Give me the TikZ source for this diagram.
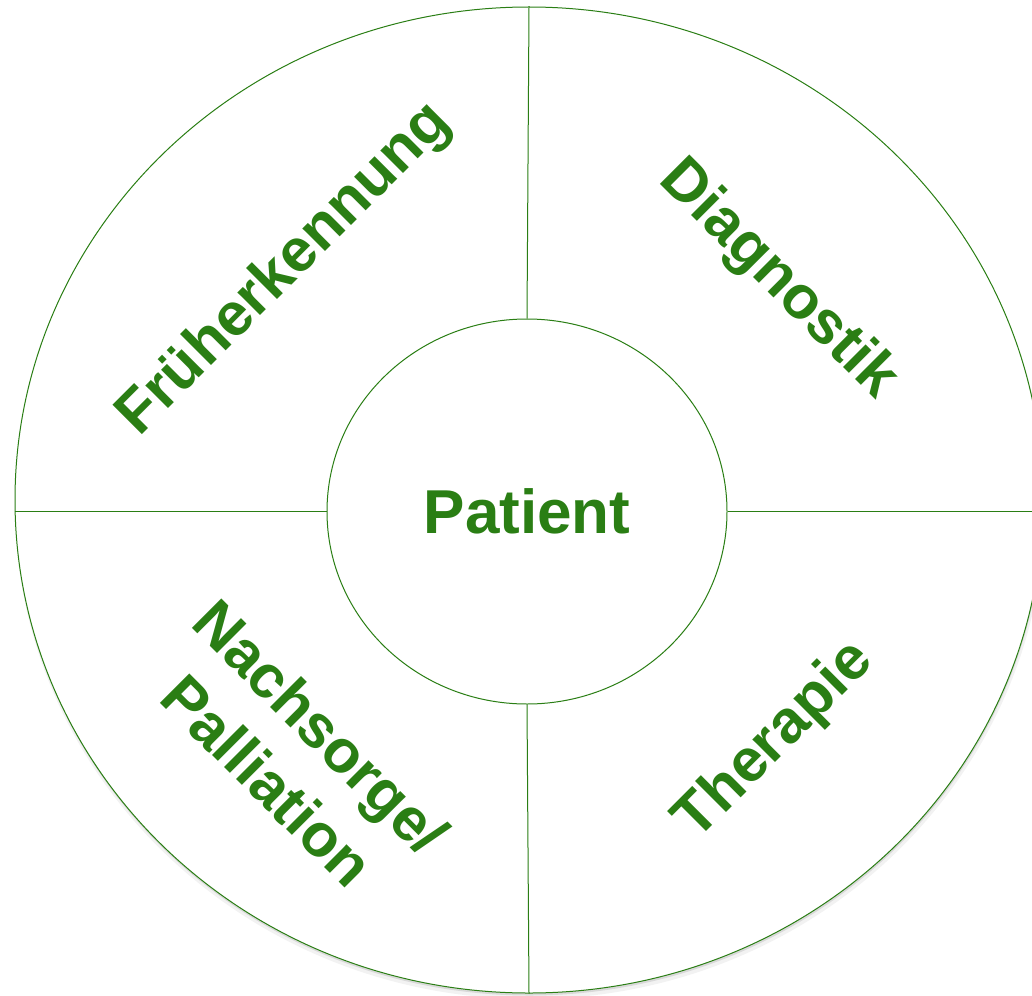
\documentclass[tikz,border=0pt]{standalone}
\usepackage{fontspec}
\setmainfont{Liberation Sans}
\usetikzlibrary{shapes.geometric}
\definecolor{leafgreen}{HTML}{2A7E14}
\begin{document}
\begin{tikzpicture}[x=1pt,y=-1pt,
  ring/.style={ellipse, draw=leafgreen, line width=1pt, fill=white, inner sep=0pt},
  divider/.style={draw=leafgreen, line width=1pt},
  phase/.style={text=leafgreen, font=\fontsize{60.5}{75.6}\selectfont\bfseries,
    align=center, inner sep=0pt},
]
\useasboundingbox (0,0) rectangle (1032,995);
\clip (0,0) rectangle (1032,995);

% soft drop shadow below the outer ring
\fill[black, opacity=0.05] (530,505) ellipse [x radius=515pt, y radius=494pt];
\fill[black, opacity=0.10] (529.5,502.5) ellipse [x radius=514pt, y radius=493pt];

% outer ring and centre
\node[ring, minimum width=1028pt, minimum height=986pt] (outer) at (529,500) {};
\node[ring, minimum width=400pt, minimum height=385pt, text=leafgreen,
      font=\fontsize{62}{70}\selectfont\bfseries] (patient) at (527,511.5) {Patient};

% four sector dividers
\draw[divider] (outer.north) -- (patient.north);
\draw[divider] (outer.south) -- (patient.south);
\draw[divider] (outer.west |- patient.west) -- (patient.west);
\draw[divider] (patient.east) -- (patient.east -| outer.east);

% sector labels
\node[phase, rotate=45]  (frueh)  at (285,270)   {Früherkennung};
\node[phase, rotate=-45] (diag)   at (778,280)   {Diagnostik};
\node[phase, rotate=45]  (thera)  at (775,741)   {Therapie};
\node[phase, rotate=-45] (nach)   at (294.3,753.7) {Nachsorge/\\Palliation};
\end{tikzpicture}
\end{document}
